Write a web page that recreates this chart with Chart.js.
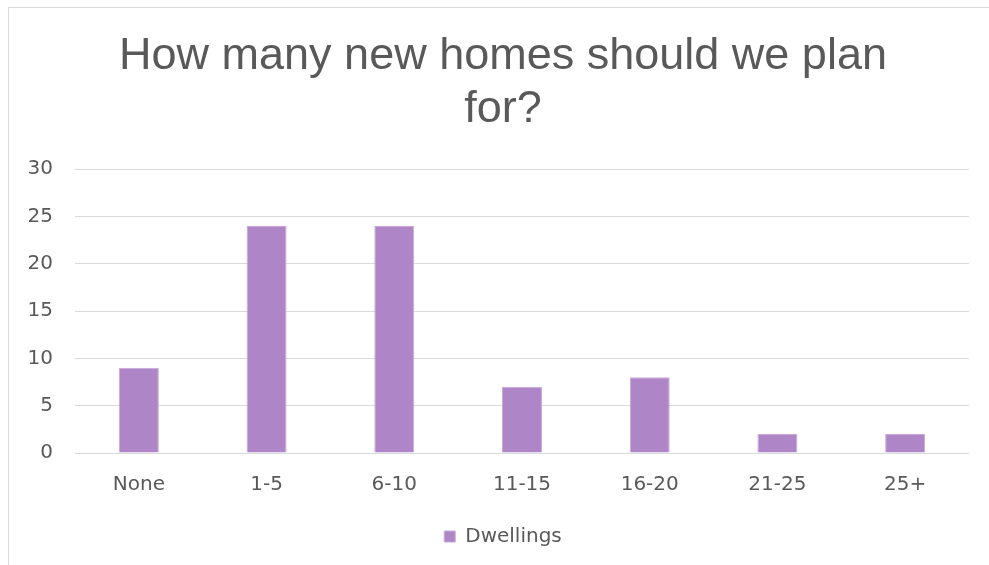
<!DOCTYPE html>
<html>
<head>
<meta charset="utf-8">
<script src="https://cdn.jsdelivr.net/npm/chart.js@4"></script>
<style>
  html, body { margin: 0; padding: 0; background: #fff; overflow: hidden; }
  #frame { position: absolute; left: 8px; top: 7px; width: 1000px; height: 600px; border: 1px solid #d9d9d9; box-sizing: border-box; }
  #wrap { position: absolute; left: 0; top: 0; width: 989px; height: 565px; }
</style>
</head>
<body>
<div id="frame"></div>
<div id="wrap"><canvas id="c" width="989" height="565"></canvas></div>
<script>
const categories = ["None", "1-5", "6-10", "11-15", "16-20", "21-25", "25+"];
const dwellings = [9, 24, 24, 7, 8, 2, 2];
const titleLines = ["How many new homes should we plan", "for?"];
const seriesName = "Dwellings";
const yMin = 0, yMax = 30, yStep = 5;

const TITLE_FONT = "'Liberation Sans', Arial, sans-serif";
const FONT = "'DejaVu Sans', sans-serif";
const TXT = "#595959";

new Chart(document.getElementById('c'), {
  type: 'bar',
  data: {
    labels: categories,
    datasets: [{
      label: seriesName,
      data: dwellings,
      backgroundColor: '#ae85c6',
      borderColor: '#c9a9dc',
      borderWidth: 1,
      barPercentage: 0.313,
      categoryPercentage: 1.0,
      yAxisID: 'y'
    }]
  },
  options: {
    responsive: false,
    animation: false,
    layout: { padding: { left: 22, right: 5, top: 30, bottom: 8.5 } },
    plugins: {
      title: {
        display: true,
        text: titleLines,
        color: TXT,
        font: { family: TITLE_FONT, size: 45, weight: 'normal', lineHeight: 1.18 },
        padding: { top: 0, bottom: 33 }
      },
      legend: {
        position: 'bottom',
        labels: {
          color: TXT,
          font: { family: FONT, size: 20 },
          boxWidth: 11, boxHeight: 11,
          padding: 17.5
        }
      },
      tooltip: { enabled: false }
    },
    scales: {
      x: {
        grid: { display: false },
        border: { display: false },
        ticks: { color: TXT, font: { family: FONT, size: 20 }, padding: 12 }
      },
      y: {
        min: yMin, max: yMax,
        grid: { color: '#d9d9d9', lineWidth: 1, drawTicks: false },
        border: { display: false },
        ticks: { stepSize: yStep, color: TXT, font: { family: FONT, size: 20 }, padding: 22 },
        afterFit: (s) => { s.width = 53; }
      },
      yRight: {
        position: 'right',
        display: true,
        grid: { display: false, drawTicks: false },
        border: { display: false },
        ticks: { display: false },
        afterFit: (s) => { s.width = 15; }
      }
    }
  }
});
</script>
</body>
</html>
